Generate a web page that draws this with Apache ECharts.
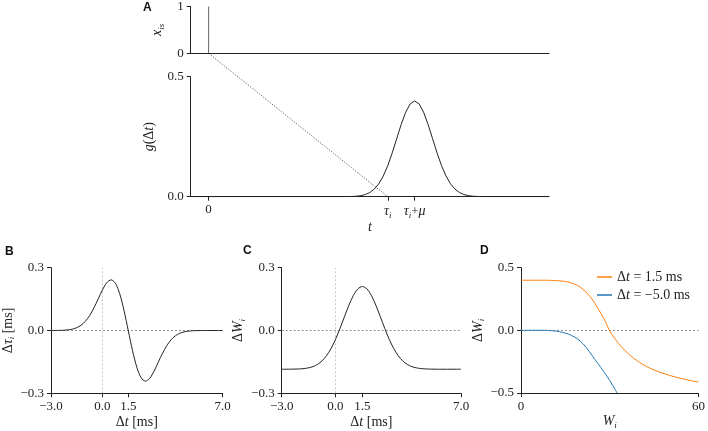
<!DOCTYPE html>
<html><head><meta charset="utf-8">
<script src="https://cdn.jsdelivr.net/npm/echarts@6/dist/echarts.min.js"></script>
<style>html,body{margin:0;padding:0;background:#fff}#c{width:708px;height:431px}</style>
</head><body><div id="c"></div>
<script>
// ---------- Panel A data ----------
const spikeT = [0, 0];
const spikeX = [0, 1];
const gaussT = [-1, 7.5, 7.75, 8, 8.25, 8.5, 8.75, 9, 9.25, 9.5, 9.75, 10, 10.25, 10.5, 10.75, 11, 11.25, 11.5,
  11.75, 12, 12.25, 12.5, 12.75, 13, 13.25, 13.5, 13.75, 14, 14.25, 14.5, 14.75, 15, 15.25, 15.5, 19];
const gaussG = [0, 0.0001, 0.0004, 0.0009, 0.002, 0.0044, 0.0091, 0.0175, 0.0318, 0.054, 0.0863, 0.1295, 0.1827, 0.242,
  0.3012, 0.352, 0.3867, 0.399, 0.3867, 0.352, 0.3012, 0.242, 0.1827, 0.1295, 0.0863, 0.054, 0.0318, 0.0175,
  0.0091, 0.0044, 0.002, 0.0009, 0.0004, 0.0001, 0];
const diagT = [0, 10];
const diagY = [1, 0];
const tickValsA = [0, 10, 11.5];
const tickLabelsA = ['0', '{it|τ}{sub|i}', '{it|τ}{sub|i}+{it|μ}'];

// ---------- Panels B, C data ----------
const dt = [-3, -2.75, -2.5, -2.25, -2, -1.75, -1.5, -1.25, -1, -0.75, -0.5, -0.25, 0, 0.25, 0.5, 0.75, 1, 1.25, 1.5,
  1.75, 2, 2.25, 2.5, 2.75, 3, 3.25, 3.5, 3.75, 4, 4.25, 4.5, 4.75, 5, 5.25, 5.5, 5.75, 6, 6.25, 6.5, 6.75, 7];
const dTau = [0.0001, 0.0002, 0.0005, 0.0013, 0.0031, 0.0066, 0.0133, 0.0250, 0.0438, 0.0714, 0.1079, 0.1510, 0.1943,
  0.2283, 0.2419, 0.2258, 0.1760, 0.0967, 0, -0.0967, -0.1760, -0.2258, -0.2419, -0.2283, -0.1943, -0.1510, -0.1079,
  -0.0714, -0.0438, -0.0250, -0.0133, -0.0066, -0.0031, -0.0013, -0.0005, -0.0002, -0.0001, 0, 0, 0, 0];
const dW = [-0.185, -0.185, -0.1847, -0.1843, -0.1835, -0.1817, -0.1783, -0.1722, -0.1618, -0.1452, -0.1206, -0.0865,
  -0.0426, 0.0095, 0.0660, 0.1210, 0.1677, 0.1990, 0.2100, 0.1990, 0.1677, 0.1210, 0.0660, 0.0095, -0.0426, -0.0865,
  -0.1206, -0.1452, -0.1618, -0.1722, -0.1783, -0.1817, -0.1835, -0.1843, -0.1847, -0.185, -0.185, -0.185, -0.185,
  -0.185, -0.185];
const tickValsBC = [-3, 0, 1.5, 7];
const zeroLineBC_x = [-3, 7];      // horizontal zero guide (x extent)
const vertLineBC_y = [-0.3, 0.3];  // vertical guide at dt = 0 (y extent)

// ---------- Panel D data ----------
const wOrange = [0, 2, 4, 6, 8, 10, 12, 14, 16, 18, 20, 22, 24, 26, 28, 30, 32, 34, 36, 38, 40, 42, 44, 46, 48, 50,
  52, 54, 56, 58, 60];
const dWOrange = [0.4, 0.4, 0.4, 0.4, 0.4, 0.399, 0.397, 0.393, 0.385, 0.37, 0.345, 0.305, 0.25, 0.175, 0.095, -0.005,
  -0.075, -0.133, -0.18, -0.22, -0.255, -0.283, -0.306, -0.326, -0.343, -0.358, -0.371, -0.383, -0.394, -0.404, -0.412];
const wBlue = [0, 2, 4, 6, 8, 10, 12, 14, 16, 18, 20, 22, 24, 26, 28, 30, 32, 32.5];
const dWBlue = [0, 0, 0, 0, 0, -0.002, -0.007, -0.016, -0.03, -0.052, -0.085, -0.135, -0.2, -0.265, -0.33, -0.4,
  -0.48, -0.5];
const legendNames = ['Δt = 1.5 ms', 'Δt = −5.0 ms'];
const tickValsD = [0, 60];
const zeroLineD_x = [0, 60];

// ---------- helpers ----------
const zip = (a, b) => a.map((v, i) => [v, b[i]]);
const SERIF = 'Liberation Serif';
const FS = 13;
const rich = {
  it: {fontFamily: SERIF, fontStyle: 'italic', fontSize: 14, lineHeight: 17, color: '#222'},
  up: {fontFamily: SERIF, fontSize: 14, lineHeight: 17, color: '#222'},
  sub: {fontFamily: SERIF, fontStyle: 'italic', fontSize: 9, lineHeight: 9, verticalAlign: 'bottom', color: '#222'}
};
const fmtNum = (d) => (v) => v.toFixed(d).replace('-', '−');
const axLine = {onZero: false, lineStyle: {color: '#222', width: 1}};
const axTick = {length: 4, lineStyle: {color: '#222', width: 1}};
const labelStyle = {fontFamily: SERIF, fontSize: FS, color: '#222', margin: 7};
const nameStyle = {fontFamily: SERIF, fontSize: 14, color: '#222', rich: rich};

const grids = [
  {left: 190.7, top: 5.7, width: 358.3, height: 47.6},    // 0 A top
  {left: 190.7, top: 76.7, width: 358.3, height: 120},    // 1 A bottom
  {left: 190.7, top: 53.3, width: 358.3, height: 143.4},  // 2 A diagonal overlay
  {left: 43.3, top: 267.7, width: 179.4, height: 125.6},  // 3 B
  {left: 281.7, top: 267.7, width: 179.3, height: 125.6}, // 4 C
  {left: 521, top: 267.7, width: 179, height: 125.6}      // 5 D
];

const xAxes = [
  {gridIndex: 0, type: 'value', min: -1, max: 19, axisLine: axLine, axisTick: {show: false}, axisLabel: {show: false}, splitLine: {show: false}},
  {gridIndex: 1, type: 'value', min: -1, max: 19, axisLine: axLine,
    axisTick: Object.assign({customValues: tickValsA}, axTick),
    axisLabel: Object.assign({customValues: tickValsA, rich: rich,
      formatter: (v) => tickLabelsA[tickValsA.indexOf(v)]}, labelStyle, {margin: 6}),
    splitLine: {show: false},
    name: '{it|t}', nameLocation: 'middle', nameGap: 20, nameTextStyle: nameStyle},
  {gridIndex: 2, type: 'value', min: -1, max: 19, show: false},
  {gridIndex: 3, type: 'value', min: -3, max: 7, axisLine: axLine,
    axisTick: Object.assign({customValues: tickValsBC}, axTick),
    axisLabel: Object.assign({customValues: tickValsBC, formatter: fmtNum(1)}, labelStyle),
    splitLine: {show: false},
    name: '{up|Δ}{it|t} {up|[ms]}', nameLocation: 'middle', nameGap: 21, nameTextStyle: nameStyle},
  {gridIndex: 4, type: 'value', min: -3, max: 7, axisLine: axLine,
    axisTick: Object.assign({customValues: tickValsBC}, axTick),
    axisLabel: Object.assign({customValues: tickValsBC, formatter: fmtNum(1)}, labelStyle),
    splitLine: {show: false},
    name: '{up|Δ}{it|t} {up|[ms]}', nameLocation: 'middle', nameGap: 21, nameTextStyle: nameStyle},
  {gridIndex: 5, type: 'value', min: 0, max: 60, axisLine: axLine,
    axisTick: Object.assign({customValues: tickValsD}, axTick),
    axisLabel: Object.assign({customValues: tickValsD, formatter: fmtNum(0)}, labelStyle),
    splitLine: {show: false},
    name: '{it|W}{sub|i}', nameLocation: 'middle', nameGap: 20, nameTextStyle: nameStyle}
];

const yAxes = [
  {gridIndex: 0, type: 'value', min: 0, max: 1, interval: 1, axisLine: axLine, axisTick: axTick,
    axisLabel: Object.assign({formatter: fmtNum(0)}, labelStyle), splitLine: {show: false},
    name: '{it|x}{sub|is}', nameLocation: 'middle', nameGap: 9, nameTextStyle: nameStyle},
  {gridIndex: 1, type: 'value', min: 0, max: 0.5, interval: 0.5, axisLine: axLine, axisTick: axTick,
    axisLabel: Object.assign({formatter: fmtNum(1)}, labelStyle), splitLine: {show: false},
    name: '{it|g}{up|(Δ}{it|t}{up|)}', nameLocation: 'middle', nameGap: 9, nameTextStyle: nameStyle},
  {gridIndex: 2, type: 'value', min: 0, max: 1, show: false},
  {gridIndex: 3, type: 'value', min: -0.3, max: 0.3, interval: 0.3, axisLine: axLine, axisTick: axTick,
    axisLabel: Object.assign({formatter: fmtNum(1)}, labelStyle), splitLine: {show: false},
    name: '{up|Δ}{it|τ}{sub|i} {up|[ms]}', nameLocation: 'middle', nameGap: 30, nameTextStyle: nameStyle},
  {gridIndex: 4, type: 'value', min: -0.3, max: 0.3, interval: 0.3, axisLine: axLine, axisTick: axTick,
    axisLabel: Object.assign({formatter: fmtNum(1)}, labelStyle), splitLine: {show: false},
    name: '{up|Δ}{it|W}{sub|i}', nameLocation: 'middle', nameGap: 34, nameTextStyle: nameStyle},
  {gridIndex: 5, type: 'value', min: -0.5, max: 0.5, interval: 0.5, axisLine: axLine, axisTick: axTick,
    axisLabel: Object.assign({formatter: fmtNum(1)}, labelStyle), splitLine: {show: false},
    name: '{up|Δ}{it|W}{sub|i}', nameLocation: 'middle', nameGap: 34, nameTextStyle: nameStyle}
];

const hStyle = {color: '#777', type: [2, 2], width: 0.8};
const vStyle = {color: '#c4c4c4', type: [2, 2], width: 1};
const guideSeries = (xi, xs, ys, style) => ({type: 'line', xAxisIndex: xi, yAxisIndex: xi, data: zip(xs, ys),
  symbol: 'none', silent: true, lineStyle: style, z: 1});

const blk = {color: '#222', width: 1};
const series = [
  {type: 'line', xAxisIndex: 0, yAxisIndex: 0, data: zip(spikeT, spikeX), symbol: 'none', lineStyle: {color: '#666', width: 1}},
  {type: 'line', xAxisIndex: 1, yAxisIndex: 1, data: zip(gaussT, gaussG), symbol: 'none', lineStyle: blk},
  {type: 'line', xAxisIndex: 2, yAxisIndex: 2, data: zip(diagT, diagY), symbol: 'none', lineStyle: {color: '#333', width: 0.8, type: [1.2, 1.6]}},
  guideSeries(3, zeroLineBC_x, [0, 0], hStyle),
  guideSeries(3, [0, 0], vertLineBC_y, vStyle),
  guideSeries(4, zeroLineBC_x, [0, 0], hStyle),
  guideSeries(4, [0, 0], vertLineBC_y, vStyle),
  guideSeries(5, zeroLineD_x, [0, 0], hStyle),
  {type: 'line', xAxisIndex: 3, yAxisIndex: 3, data: zip(dt, dTau), symbol: 'none', smooth: 0.3, lineStyle: blk, z: 3},
  {type: 'line', xAxisIndex: 4, yAxisIndex: 4, data: zip(dt, dW), symbol: 'none', smooth: 0.3, lineStyle: blk, z: 3},
  {type: 'line', name: legendNames[0], xAxisIndex: 5, yAxisIndex: 5, data: zip(wOrange, dWOrange), symbol: 'none', smooth: 0.3,
    color: '#ff7f0e', lineStyle: {color: '#ff7f0e', width: 1}, z: 3},
  {type: 'line', name: legendNames[1], xAxisIndex: 5, yAxisIndex: 5, data: zip(wBlue, dWBlue), symbol: 'none', smooth: 0.3,
    color: '#1f77b4', lineStyle: {color: '#1f77b4', width: 1}, z: 3}
];

const letter = (t, x, y) => ({type: 'text', left: x, top: y,
  style: {text: t, font: 'bold 12px "Liberation Sans", Arial, sans-serif', fill: '#111'}});

const chart = echarts.init(document.getElementById('c'), null, {renderer: 'canvas'});
chart.setOption({
  animation: false,
  backgroundColor: '#fff',
  grid: grids,
  xAxis: xAxes,
  yAxis: yAxes,
  series: series,
  legend: {
    data: legendNames, orient: 'vertical', left: 597, top: 270, icon: 'rect', padding: 0,
    itemWidth: 15, itemHeight: 1.5, itemGap: 4,
    formatter: (n) => n.replace('Δt', '{up|Δ}{it|t}').replace(/(= .*)$/, '{up|$1}'),
    textStyle: {fontFamily: SERIF, fontSize: 14, color: '#222', rich: rich}
  },
  graphic: [letter('A', 143, 2), letter('B', 5, 246), letter('C', 243, 245), letter('D', 480, 245)]
});
</script>
</body></html>
